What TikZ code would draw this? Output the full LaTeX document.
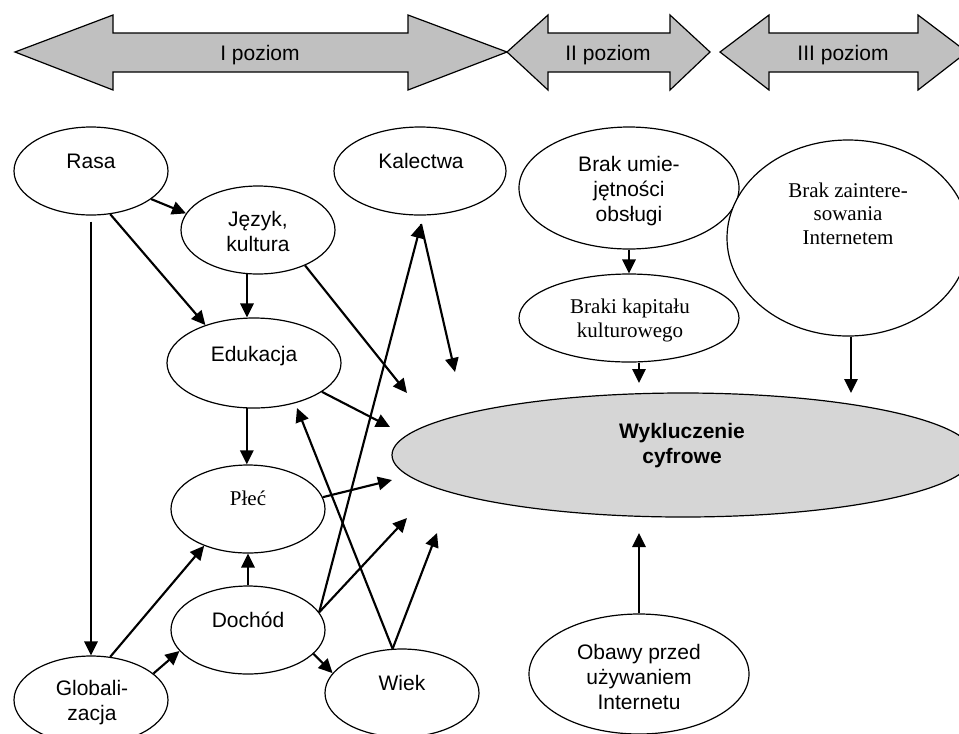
\documentclass[tikz,border=0pt]{standalone}
\usepackage{fontspec}
\setmainfont{Liberation Serif}
\setsansfont{Liberation Sans}
\usetikzlibrary{shapes.geometric,arrows.meta}
\definecolor{bandgray}{RGB}{192,192,192}
\definecolor{wykgray}{RGB}{214,214,214}
\begin{document}
\begin{tikzpicture}[x=0.75pt,y=-0.75pt,
  ell/.style={draw,ellipse,inner sep=0pt,line width=0.9pt,fill=white},
  sanslbl/.style={font=\sffamily\fontsize{15.75}{18.5}\selectfont,align=center,inner sep=0pt,anchor=base},
  seriflbl/.style={font=\rmfamily\fontsize{15.75}{17.6}\selectfont,align=center,inner sep=0pt,anchor=base},
  band/.style={draw,line width=0.9pt,fill=bandgray,line join=miter},
  conn/.style={line width=1.6pt,-{Triangle[length=10.5pt,width=10pt]}},
]
\useasboundingbox (0,0) rectangle (959,733);

% level bands
\draw[band] (15,52) -- (113,15) -- (113,33) -- (408,33) -- (408,15) -- (507,52) -- (408,90) -- (408,72) -- (113,72) -- (113,90) -- cycle;
\draw[band] (507,52) -- (548,15) -- (548,33) -- (670,33) -- (670,15) -- (710,52) -- (670,90) -- (670,72) -- (548,72) -- (548,90) -- cycle;
\draw[band] (720,52) -- (769,15) -- (769,33) -- (918,33) -- (918,15) -- (967,52) -- (918,90) -- (918,72) -- (769,72) -- (769,90) -- cycle;
\node[sanslbl] (p1) at (260,60) {I poziom};
\node[sanslbl] (p2) at (608,60) {II poziom};
\node[sanslbl] (p3) at (843,60) {III poziom};

% ellipses
\node[ell,minimum width=115.5pt,minimum height=66pt] (rasa) at (91,171) {};
\node[ell,minimum width=115.5pt,minimum height=66pt] (jez) at (258,230) {};
\node[ell,minimum width=129pt,minimum height=66pt] (kal) at (420,171) {};
\node[ell,minimum width=130.5pt,minimum height=67.5pt] (edu) at (254,363) {};
\node[ell,minimum width=115.5pt,minimum height=66pt] (plec) at (248,509) {};
\node[ell,minimum width=115.5pt,minimum height=66pt] (doch) at (248,630) {};
\node[ell,minimum width=115.5pt,minimum height=66pt] (glob) at (91,700) {};
\node[ell,minimum width=115.5pt,minimum height=66pt] (wiek) at (402,693) {};
\node[ell,minimum width=165pt,minimum height=91.5pt] (brak) at (629,188) {};
\node[ell,minimum width=165pt,minimum height=66pt] (kap) at (629,318) {};
\node[ell,minimum width=181.5pt,minimum height=147pt] (zain) at (848,238) {};
\node[ell,fill=wykgray,minimum width=436.5pt,minimum height=93pt] (wyk) at (683,455) {};
\node[ell,minimum width=165pt,minimum height=90pt] (obawy) at (639,674) {};

% texts (base = baseline of last line)
\node[sanslbl] (trasa) at (91,168) {Rasa};
\node[sanslbl] (tjez) at (258,251) {Język,\\kultura};
\node[sanslbl] (tkal) at (421,168) {Kalectwa};
\node[sanslbl] (tedu) at (254,361) {Edukacja};
\node[seriflbl] (tplec) at (248,505) {Płeć};
\node[sanslbl] (tdoch) at (248,627) {Dochód};
\node[sanslbl] (tglob) at (92,720) {Globali-\\zacja};
\node[sanslbl] (twiek) at (402,690) {Wiek};
\node[sanslbl] (tbrak) at (629,221) {Brak umie-\\jętności\\obsługi};
\node[seriflbl] (tkap) at (630,337) {Braki kapitału\\kulturowego};
\node[seriflbl] (tzain) at (848,244) {Brak zaintere-\\sowania\\Internetem};
\node[sanslbl,font=\sffamily\bfseries\fontsize{15.75}{18.5}\selectfont] (twyk) at (682,463) {Wykluczenie\\cyfrowe};
\node[sanslbl] (tobawy) at (639,709) {Obawy przed\\używaniem\\Internetu};

% free ends
\coordinate (k) at (421,224);
\coordinate (f5) at (407,393);
\coordinate (f6) at (455,372);
\coordinate (f7) at (390,427);
\coordinate (f9) at (297,408);
\coordinate (f10) at (392,480);
\coordinate (f11) at (407,518);
\coordinate (f12) at (437,533);
\coordinate (f18) at (639,383);
\coordinate (f19) at (851,393);
\coordinate (f20) at (639,533);

% connectors
\draw[conn] (rasa.-25) -- (jez.167);
\draw[conn] (rasa.-66) -- (edu.142);
\draw[conn,shorten <=4.5pt] (rasa.south) -- (glob.north);
\draw[conn] (jez.-104) -- (jez.-104 |- edu.north);
\draw[conn] (jez.-37) -- (f5);
\draw[conn] (doch.14) -- (k);
\draw[conn] (k) -- (f6);
\draw[conn] (edu.-23) -- (f7);
\draw[conn] (edu.-99) -- (edu.-99 |- plec.north);
\draw[conn] (wiek.102) -- (f9);
\draw[conn] (plec.9) -- (f10);
\draw[conn] (doch.14) -- (f11);
\draw[conn] (wiek.102) -- (f12);
\draw[conn] (doch.north) -- (plec.south);
\draw[conn] (glob.66) -- (plec.-140);
\draw[conn] (glob.23) -- (doch.-163);
\draw[conn] (doch.-20) -- (wiek.164);
\draw[conn] (brak.south) -- (kap.north);
\draw[conn] (kap.south -| f18) -- (f18);
\draw[conn] (zain.south -| f19) -- (f19);
\draw[conn] (obawy.north) -- (f20);
\end{tikzpicture}
\end{document}
